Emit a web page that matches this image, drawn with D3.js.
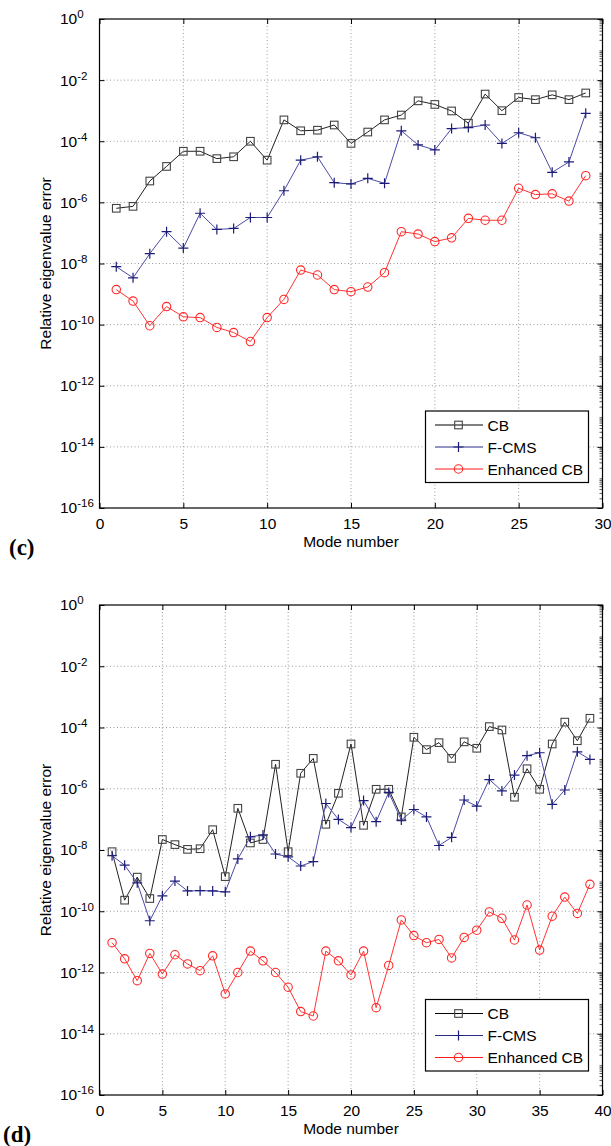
<!DOCTYPE html>
<html>
<head>
<meta charset="utf-8">
<title>Relative eigenvalue error</title>
<script src="https://d3js.org/d3.v7.min.js"></script>
<style>
  body { margin: 0; background: white; }
  svg text { font-family: "Liberation Sans", Arial, Helvetica, sans-serif; fill: black; }
  .grid line { stroke: #9a9a9a; stroke-width: 1px; stroke-dasharray: 1,2.5; }
  .tag { font-family: "Liberation Serif", "Times New Roman", serif; font-weight: bold; font-size: 23px; }
</style>
</head>
<body>
<svg id="fig" width="611" height="1146"></svg>
<script>
// ---- data, panel (c) ----
const modesC = [1,2,3,4,5,6,7,8,9,10,11,12,13,14,15,16,17,18,19,20,21,22,23,24,25,26,27,28,29];
const cbC = [6.4e-7,7.4e-7,5e-6,1.5e-5,4.7e-5,4.7e-5,2.7e-5,3.1e-5,1.0e-4,2.4e-5,5e-4,2.2e-4,2.3e-4,3.4e-4,8.5e-5,
             2.0e-4,5e-4,7.2e-4,2.1e-3,1.6e-3,9.8e-4,3.9e-4,3.5e-3,1.0e-3,2.7e-3,2.3e-3,3.3e-3,2.3e-3,3.8e-3];
const fcmsC = [7.9e-9,3.4e-9,2.1e-8,1.1e-7,3.2e-8,4.4e-7,1.3e-7,1.4e-7,3.2e-7,3.2e-7,2.4e-6,2.4e-5,3.1e-5,4.4e-6,4.0e-6,
               6.1e-6,4.2e-6,2.2e-4,7.6e-5,5.2e-5,2.6e-4,2.8e-4,3.4e-4,8.5e-5,1.9e-4,1.3e-4,9.6e-6,2.1e-5,8.2e-4];
const enhC = [1.4e-9,5.9e-10,9.2e-11,3.9e-10,1.8e-10,1.7e-10,8.1e-11,5.5e-11,2.8e-11,1.7e-10,6.7e-10,6.1e-9,4.2e-9,1.4e-9,1.2e-9,
              1.7e-9,5.0e-9,1.1e-7,9.2e-8,5.2e-8,6.9e-8,3.0e-7,2.6e-7,2.6e-7,2.9e-6,1.8e-6,1.9e-6,1.1e-6,7.5e-6];
const xTicksC = [0,5,10,15,20,25,30];

// ---- data, panel (d) ----
const modesD = [1,2,3,4,5,6,7,8,9,10,11,12,13,14,15,16,17,18,19,20,21,22,23,24,25,26,27,28,29,30,31,32,33,34,35,36,37,38,39];
const cbD = [8.8e-9,2.3e-10,1.3e-9,2.6e-10,2.2e-8,1.5e-8,1.05e-8,1.1e-8,4.6e-8,1.35e-9,2.3e-7,1.7e-8,2.2e-8,6.3e-6,8.8e-9,
             3.2e-6,9.8e-6,6.9e-8,7.1e-7,2.9e-5,6.4e-8,9.6e-7,9.6e-7,1.2e-7,4.8e-5,1.9e-5,3.2e-5,9.8e-6,3.4e-5,2.1e-5,
             1.07e-4,8.3e-5,5.3e-7,4.5e-6,9.6e-7,2.9e-5,1.5e-4,3.7e-5,2.0e-4];
const fcmsD = [6.5e-9,3.2e-9,8.5e-10,4.9e-11,3.2e-10,9.7e-10,4.6e-10,4.7e-10,4.6e-10,4.3e-10,5.1e-9,2.7e-8,3.1e-8,7.4e-9,6.0e-9,
               3.0e-9,4.2e-9,3.3e-7,1.0e-7,5.4e-8,4.1e-7,8.4e-8,7.6e-7,9.5e-8,2.1e-7,1.2e-7,1.4e-8,2.6e-8,4.3e-7,2.7e-7,
               2.0e-6,8.5e-7,2.8e-6,1.2e-5,1.5e-5,3.1e-7,9.1e-7,1.6e-5,9.1e-6];
const enhD = [9.4e-12,2.8e-12,5.4e-13,4.2e-12,8.9e-13,3.8e-12,1.9e-12,1.15e-12,3.5e-12,2.0e-13,1.0e-12,5.0e-12,2.4e-12,1.0e-12,3.3e-13,
              5.3e-14,3.8e-14,5.0e-12,2.4e-12,8.3e-13,5.0e-12,7.1e-14,1.7e-12,5.2e-11,1.6e-11,9.4e-12,1.2e-11,3.0e-12,1.4e-11,2.4e-11,
              9.5e-11,5.9e-11,1.15e-11,1.6e-10,5.4e-12,6.9e-11,2.9e-10,8.5e-11,7.6e-10];
const xTicksD = [0,5,10,15,20,25,30,35,40];

// ---- shared axis / legend text ----
const yTickVals = [1,1e-2,1e-4,1e-6,1e-8,1e-10,1e-12,1e-14,1e-16];
const yTickExps = ["0","-2","-4","-6","-8","-10","-12","-14","-16"];
const seriesNames = ["CB","F-CMS","Enhanced CB"];

const svg = d3.select("#fig");
const L = 99.5, R = 602.5;

function plusPath(cx, cy, s) {
  return "M" + (cx - s) + "," + cy + "H" + (cx + s) + "M" + cx + "," + (cy - s) + "V" + (cy + s);
}

function drawMarker(g, kind, cx, cy) {
  if (kind === "square") {
    g.append("rect").attr("x", cx - 3.8).attr("y", cy - 3.8).attr("width", 7.6).attr("height", 7.6)
      .attr("fill", "none").attr("stroke", "#444").attr("stroke-width", 1.1);
  } else if (kind === "plus") {
    g.append("path").attr("d", plusPath(cx, cy, 5)).attr("stroke", "#1c1c78").attr("stroke-width", 1.2);
  } else {
    g.append("circle").attr("cx", cx).attr("cy", cy).attr("r", 4.2)
      .attr("fill", "none").attr("stroke", "#ff2626").attr("stroke-width", 1.1);
  }
}

function drawPanel(top, bottom, xMax, xTicks, modes, cb, fcms, enh, legY, tag, tagX) {
  const x = d3.scaleLinear().domain([0, xMax]).range([L, R]);
  const y = d3.scaleLog().domain([1e-16, 1]).range([bottom, top]);
  const g = svg.append("g");

  // grid
  const grid = g.append("g").attr("class", "grid");
  grid.selectAll("line.v").data(xTicks.filter(d => d > 0 && d < xMax)).join("line")
    .attr("x1", d => x(d)).attr("x2", d => x(d)).attr("y1", top).attr("y2", bottom);
  grid.selectAll("line.h").data(yTickVals.slice(1, -1)).join("line")
    .attr("x1", L).attr("x2", R).attr("y1", d => y(d)).attr("y2", d => y(d));

  // axes (ticks inside, MATLAB style)
  const xa = g.append("g").attr("transform", "translate(0," + bottom + ")")
    .call(d3.axisBottom(x).tickValues(xTicks).tickSizeInner(-5).tickSizeOuter(0).tickPadding(9.5));
  xa.selectAll("text").attr("font-size", 15.5);
  g.append("g").attr("transform", "translate(0," + top + ")")
    .call(d3.axisTop(x).tickValues(xTicks).tickSizeInner(-5).tickSizeOuter(0).tickFormat(""));

  const ya = g.append("g").attr("transform", "translate(" + L + ",0)")
    .call(d3.axisLeft(y).tickValues(yTickVals).tickSizeInner(-5).tickSizeOuter(0));
  ya.selectAll("text").each(function(d, i) {
    const t = d3.select(this);
    t.text("").attr("text-anchor", "start").attr("x", 60 - L).attr("font-size", 15.5);
    t.append("tspan").text("10");
    t.append("tspan").attr("dy", -6).attr("font-size", 11.5).text(yTickExps[i]);
  });
  g.append("g").attr("transform", "translate(" + R + ",0)")
    .call(d3.axisRight(y).tickValues(yTickVals).tickSizeInner(-5).tickSizeOuter(0).tickFormat(""));

  // minor ticks on right edge
  const minor = [];
  for (let k = -16; k < 0; k++) for (let m = 2; m <= 9; m++) minor.push(m * Math.pow(10, k));
  g.append("g").selectAll("line").data(minor).join("line")
    .attr("x1", R - 3).attr("x2", R).attr("y1", d => y(d)).attr("y2", d => y(d))
    .attr("stroke", "#555").attr("stroke-width", 1);

  g.selectAll(".domain").remove();
  g.selectAll(".tick line").attr("stroke", "black");
  g.append("rect").attr("x", L).attr("y", top).attr("width", R - L).attr("height", bottom - top)
    .attr("fill", "none").attr("stroke", "black").attr("stroke-width", 1.2);

  // series
  const series = [
    { vals: cb, line: "#222", kind: "square" },
    { vals: fcms, line: "#4a4aa6", kind: "plus" },
    { vals: enh, line: "#ff3333", kind: "circle" }
  ];
  const lineGen = d3.line().x(d => x(d[0])).y(d => y(d[1]));
  series.forEach(s => {
    const pts = modes.map((m, i) => [m, s.vals[i]]);
    g.append("path").datum(pts).attr("d", lineGen)
      .attr("fill", "none").attr("stroke", s.line).attr("stroke-width", 1);
    const mg = g.append("g");
    pts.forEach(p => drawMarker(mg, s.kind, x(p[0]), y(p[1])));
  });

  // legend
  const lg = g.append("g");
  lg.append("rect").attr("x", 425.5).attr("y", legY).attr("width", 163).attr("height", 71.5)
    .attr("fill", "white").attr("stroke", "black").attr("stroke-width", 1.2);
  series.forEach((s, i) => {
    const ly = legY + 14 + i * 22;
    lg.append("line").attr("x1", 435).attr("x2", 483).attr("y1", ly).attr("y2", ly)
      .attr("stroke", s.kind === "square" ? "#000" : (s.kind === "plus" ? "#2a2a8a" : "#ff1a1a")).attr("stroke-width", 1);
    drawMarker(lg, s.kind, 458.5, ly);
    lg.append("text").attr("x", 487.5).attr("y", ly).attr("dy", "0.36em").attr("font-size", 15.5)
      .text(seriesNames[i]);
  });

  // labels
  g.append("text").attr("transform", "translate(45," + ((top + bottom) / 2) + ") rotate(-90)")
    .attr("text-anchor", "middle").attr("dy", "0.36em").attr("font-size", 15.5)
    .text("Relative eigenvalue error");
  g.append("text").attr("x", (L + R) / 2).attr("y", bottom + 33).attr("dy", "0.36em")
    .attr("text-anchor", "middle").attr("font-size", 15.5).text("Mode number");
  g.append("text").attr("class", "tag").attr("x", tagX).attr("y", bottom + 39).attr("dy", "0.33em").text(tag);
}

drawPanel(19, 508, 30, xTicksC, modesC, cbC, fcmsC, enhC, 411, "(c)", 9);
drawPanel(605, 1095, 40, xTicksD, modesD, cbD, fcmsD, enhD, 999.5, "(d)", 3);
</script>
</body>
</html>
